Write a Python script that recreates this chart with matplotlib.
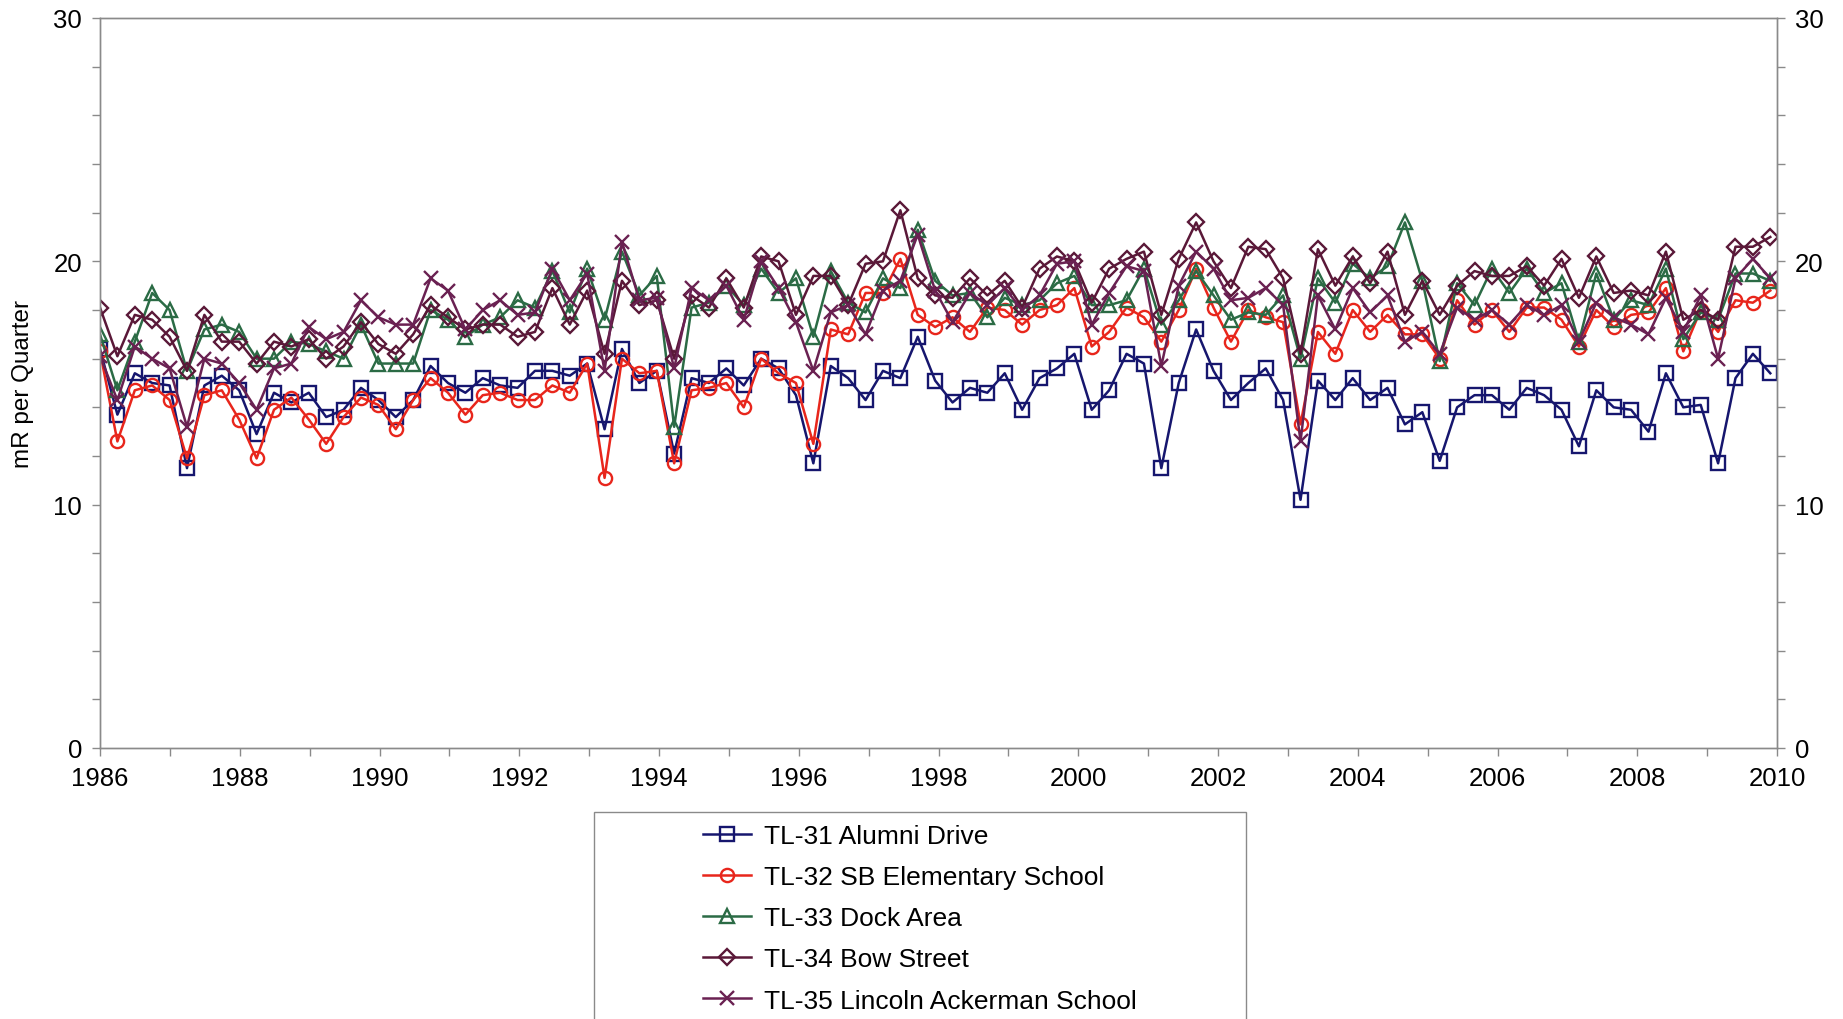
import numpy as np
import matplotlib
matplotlib.use("Agg")
import matplotlib.pyplot as plt
from matplotlib.patches import Rectangle
from matplotlib.ticker import MultipleLocator

plt.rcParams["font.family"] = ["Liberation Sans", "DejaVu Sans"]

# Quarterly sampling dates, 1986 through 2009 (decimal years)
quarter_index = np.arange(97)
years = 1986.0 + quarter_index * 0.249

labels = [
    "TL-31 Alumni Drive",
    "TL-32 SB Elementary School",
    "TL-33 Dock Area",
    "TL-34 Bow Street",
    "TL-35 Lincoln Ackerman School",
]

tl31 = [16.4, 13.7, 15.4, 15.0, 14.9, 11.5, 14.9, 15.3, 14.7, 12.9,
        14.6, 14.2, 14.6, 13.6, 13.9, 14.8, 14.3, 13.6, 14.3, 15.7,
        15.0, 14.6, 15.2, 14.9, 14.8, 15.5, 15.5, 15.3, 15.8, 13.1,
        16.4, 15.0, 15.5, 12.1, 15.2, 15.0, 15.6, 14.9, 16.0, 15.6,
        14.5, 11.7, 15.7, 15.2, 14.3, 15.5, 15.2, 16.9, 15.1, 14.2,
        14.8, 14.6, 15.4, 13.9, 15.2, 15.6, 16.2, 13.9, 14.7, 16.2,
        15.8, 11.5, 15.0, 17.2, 15.5, 14.3, 15.0, 15.6, 14.3, 10.2,
        15.1, 14.3, 15.2, 14.3, 14.8, 13.3, 13.8, 11.8, 14.0, 14.5,
        14.5, 13.9, 14.8, 14.5, 13.9, 12.4, 14.7, 14.0, 13.9, 13.0,
        15.4, 14.0, 14.1, 11.7, 15.2, 16.2, 15.4]

tl32 = [16.3, 12.6, 14.7, 14.9, 14.3, 11.9, 14.5, 14.7, 13.5, 11.9,
        13.9, 14.4, 13.5, 12.5, 13.6, 14.4, 14.1, 13.1, 14.3, 15.2,
        14.6, 13.7, 14.5, 14.6, 14.3, 14.3, 14.9, 14.6, 15.8, 11.1,
        16.0, 15.4, 15.5, 11.7, 14.7, 14.8, 15.0, 14.0, 16.0, 15.4,
        15.0, 12.5, 17.2, 17.0, 18.7, 18.7, 20.1, 17.8, 17.3, 17.7,
        17.1, 18.1, 18.0, 17.4, 18.0, 18.2, 18.9, 16.5, 17.1, 18.1,
        17.7, 16.7, 18.0, 19.7, 18.1, 16.7, 18.0, 17.7, 17.5, 13.3,
        17.1, 16.2, 18.0, 17.1, 17.8, 17.0, 17.0, 16.0, 18.4, 17.4,
        18.0, 17.1, 18.1, 18.1, 17.6, 16.5, 18.0, 17.3, 17.8, 17.9,
        18.9, 16.3, 18.0, 17.1, 18.4, 18.3, 18.8]

tl33 = [17.0, 14.7, 16.7, 18.7, 18.0, 15.5, 17.2, 17.4, 17.1, 16.0,
        16.0, 16.7, 16.6, 16.3, 16.0, 17.4, 15.8, 15.8, 15.8, 18.0,
        17.6, 16.9, 17.4, 17.7, 18.4, 18.1, 19.6, 17.9, 19.7, 17.6,
        20.4, 18.6, 19.4, 13.2, 18.1, 18.3, 19.0, 18.2, 19.7, 18.7,
        19.3, 16.9, 19.6, 18.3, 17.9, 19.3, 18.9, 21.3, 19.2, 18.6,
        18.7, 17.7, 18.5, 18.2, 18.4, 19.1, 19.4, 18.2, 18.2, 18.4,
        19.7, 17.4, 18.4, 19.6, 18.6, 17.6, 17.9, 17.8, 18.6, 16.0,
        19.3, 18.3, 19.9, 19.3, 19.8, 21.6, 19.2, 15.9, 19.1, 18.2,
        19.7, 18.7, 19.7, 18.7, 19.1, 16.7, 19.5, 17.6, 18.4, 18.2,
        19.7, 16.8, 17.9, 17.6, 19.5, 19.5, 19.2]

tl34 = [18.1, 16.1, 17.8, 17.6, 16.9, 15.5, 17.8, 16.7, 16.7, 15.8,
        16.7, 16.5, 16.8, 16.0, 16.5, 17.5, 16.6, 16.2, 17.0, 18.2,
        17.7, 17.2, 17.4, 17.4, 16.9, 17.1, 18.9, 17.4, 18.8, 16.2,
        19.2, 18.2, 18.4, 16.0, 18.6, 18.1, 19.3, 18.1, 20.2, 20.0,
        17.8, 19.4, 19.4, 18.2, 19.9, 20.0, 22.1, 19.3, 18.6, 18.5,
        19.3, 18.6, 19.2, 18.1, 19.7, 20.2, 20.0, 18.3, 19.7, 20.1,
        20.4, 17.8, 20.1, 21.6, 20.0, 18.9, 20.6, 20.5, 19.3, 16.2,
        20.5, 19.0, 20.2, 19.1, 20.4, 17.8, 19.2, 17.8, 19.0, 19.6,
        19.4, 19.4, 19.8, 19.0, 20.1, 18.5, 20.2, 18.7, 18.8, 18.6,
        20.4, 17.6, 18.0, 17.6, 20.6, 20.6, 21.0]

tl35 = [16.1, 14.3, 16.5, 16.0, 15.6, 13.2, 16.0, 15.8, 15.0, 13.9,
        15.6, 15.8, 17.3, 16.8, 17.1, 18.4, 17.7, 17.4, 17.4, 19.3,
        18.8, 17.2, 18.0, 18.4, 17.8, 17.9, 19.7, 18.4, 19.5, 15.5,
        20.8, 18.4, 18.5, 15.6, 18.9, 18.4, 19.0, 17.6, 20.0, 18.9,
        17.5, 15.5, 17.9, 18.2, 17.0, 18.8, 19.2, 21.1, 18.8, 17.5,
        18.7, 18.2, 18.9, 18.0, 18.6, 19.9, 20.0, 17.4, 18.7, 19.8,
        19.6, 15.7, 19.0, 20.4, 19.7, 18.4, 18.5, 18.9, 18.2, 12.6,
        18.6, 17.2, 18.9, 17.9, 18.6, 16.7, 17.1, 16.2, 18.1, 17.6,
        18.0, 17.4, 18.2, 17.8, 18.2, 16.7, 18.3, 17.7, 17.4, 17.0,
        18.5, 17.1, 18.6, 16.0, 19.3, 20.1, 19.3]

colors = ["#16166e", "#e8261c", "#2b6b45", "#5a1838", "#6a2152"]
markers = ["s", "o", "^", "D", "x"]
msizes = [9.5, 9.5, 10, 8, 10.5]

W, H = 1843, 1020
fig = plt.figure(figsize=(W / 100, H / 100), dpi=100)
ax = fig.add_axes([100 / W, 1 - 749 / H, 1677 / W, 730 / H])

handles = []
for vals, c, m, ms, lab in zip([tl31, tl32, tl33, tl34, tl35], colors, markers, msizes, labels):
    h, = ax.plot(years, vals, color=c, lw=1.8, marker=m, ms=ms, mfc="none",
                 mec=c, mew=1.7, label=lab)
    handles.append(h)

ax.set_xlim(1986, 2010)
ax.set_ylim(0, 30)
ax.xaxis.set_major_locator(MultipleLocator(2))
ax.xaxis.set_minor_locator(MultipleLocator(1))
ax.yaxis.set_major_locator(MultipleLocator(10))
ax.yaxis.set_minor_locator(MultipleLocator(2))
ax.set_ylabel("mR per Quarter", fontsize=17.5, labelpad=14)

axr = ax.twinx()
axr.set_ylim(0, 30)
axr.yaxis.set_major_locator(MultipleLocator(10))
axr.yaxis.set_minor_locator(MultipleLocator(2))

for a in (ax, axr):
    for s in a.spines.values():
        s.set_color("#8a8a8a")
        s.set_linewidth(1.0)
    a.tick_params(which="both", direction="out", color="#8a8a8a", width=1.0,
                  length=6, labelsize=18.5, pad=7)

fig.legend(handles=handles, loc="upper left", bbox_to_anchor=(703 / W, 1 - 825 / H),
           frameon=False, fontsize=19, borderpad=0, borderaxespad=0,
           handlelength=1.8, handletextpad=0.5, labelspacing=0.65)
fig.patches.append(Rectangle((594 / W, -0.1), 652 / W, 0.1 + (1 - 813 / H),
                             transform=fig.transFigure, fill=False,
                             edgecolor="#8a8a8a", lw=1.0))

fig.savefig("out.png", dpi=100, facecolor="white")
